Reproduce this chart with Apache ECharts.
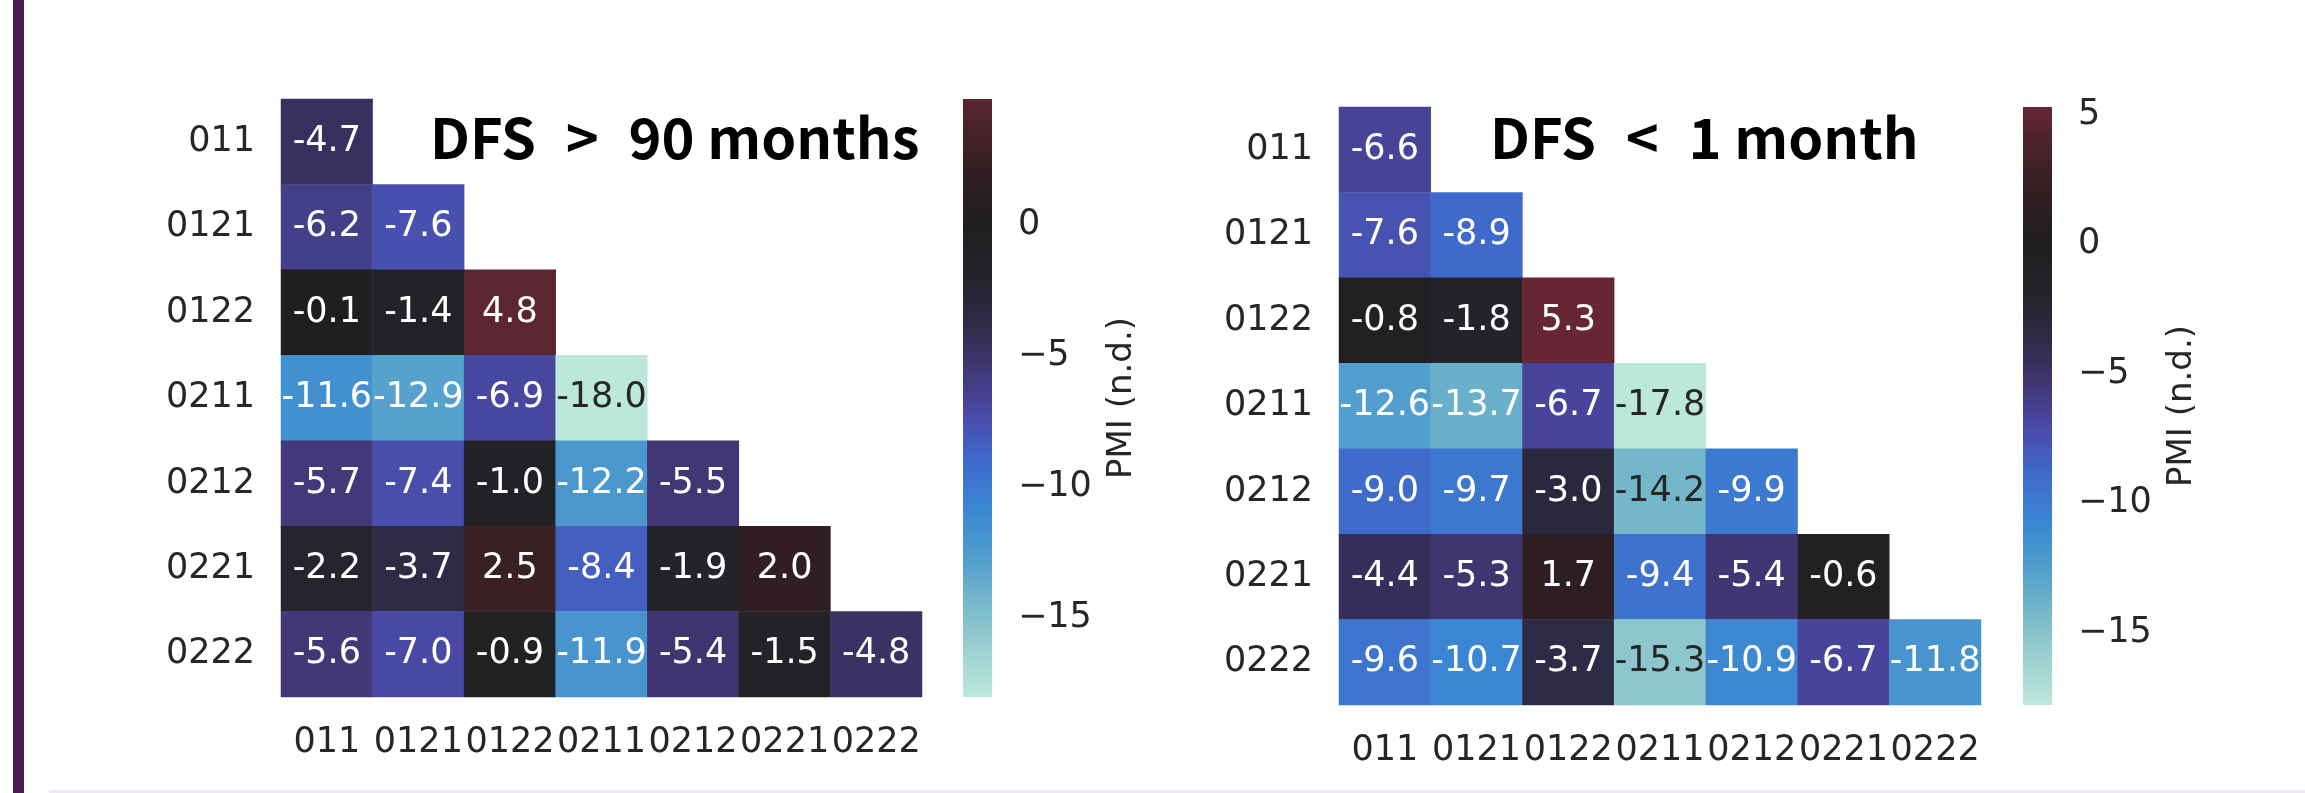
<!DOCTYPE html>
<html><head><meta charset="utf-8">
<script src="https://cdn.jsdelivr.net/npm/echarts@6/dist/echarts.min.js"></script>
<style>html,body{margin:0;padding:0;background:#fff}#c{width:2305px;height:793px}</style>
</head><body><div id="c"></div>
<script>
// ---------- data ----------
const categories = ['011', '0121', '0122', '0211', '0212', '0221', '0222'];
const leftTitle = ['DFS', '>', '90 months'];
const rightTitle = ['DFS', '<', '1 month'];
const leftRows = [
  [-4.7],
  [-6.2, -7.6],
  [-0.1, -1.4, 4.8],
  [-11.6, -12.9, -6.9, -18.0],
  [-5.7, -7.4, -1.0, -12.2, -5.5],
  [-2.2, -3.7, 2.5, -8.4, -1.9, 2.0],
  [-5.6, -7.0, -0.9, -11.9, -5.4, -1.5, -4.8]
];
const rightRows = [
  [-6.6],
  [-7.6, -8.9],
  [-0.8, -1.8, 5.3],
  [-12.6, -13.7, -6.7, -17.8],
  [-9.0, -9.7, -3.0, -14.2, -9.9],
  [-4.4, -5.3, 1.7, -9.4, -5.4, -0.6],
  [-9.6, -10.7, -3.7, -15.3, -10.9, -6.7, -11.8]
];
const leftColorbarTicks = [-15, -10, -5, 0];
const rightColorbarTicks = [-15, -10, -5, 0, 5];
const colorbarLabel = 'PMI (n.d.)';

// ---------- colormap (icefire-like, centred at 0) ----------
const cmapAnchors = [
  [0.00, '#bce7db'], [0.05, '#9dd1cf'], [0.10, '#76b8ca'], [0.15, '#4f9dcd'],
  [0.20, '#3a86d2'], [0.25, '#3f6acb'], [0.30, '#4a4aa8'], [0.35, '#3f3671'],
  [0.40, '#2d2a44'], [0.45, '#242329'], [0.50, '#1f1e1f'], [0.55, '#2f1e21'],
  [0.60, '#472229'], [0.65, '#672636'], [0.70, '#8a2a3f']
];
function hex2rgb(h) { return [1, 3, 5].map(i => parseInt(h.substr(i, 2), 16)); }
function cmapRGB(t) {
  t = Math.max(0, Math.min(0.7, t));
  for (let i = 0; i < cmapAnchors.length - 1; i++) {
    const [t0, c0] = cmapAnchors[i], [t1, c1] = cmapAnchors[i + 1];
    if (t >= t0 && t <= t1) {
      const f = (t - t0) / (t1 - t0), a = hex2rgb(c0), b = hex2rgb(c1);
      return a.map((v, k) => Math.round(v + (b[k] - v) * f));
    }
  }
  return hex2rgb(cmapAnchors[cmapAnchors.length - 1][1]);
}
function rgbStr(c) { return 'rgb(' + c.join(',') + ')'; }
function lum(c) {
  const l = c.map(v => { v /= 255; return v <= 0.03928 ? v / 12.92 : Math.pow((v + 0.055) / 1.055, 2.4); });
  return 0.2126 * l[0] + 0.7152 * l[1] + 0.0722 * l[2];
}

const FONT = 'DejaVu Sans';
const TFONT = 'Noto Sans CJK KR';
const TXT = '#262626';
const FS = 35;

function buildPanel(rows, ticks, title, L, idx) {
  const flat = rows.flat();
  const vmin = Math.min(...flat), vmax = Math.max(...flat);
  const vr = Math.max(Math.abs(vmin), Math.abs(vmax));
  const tOf = v => 0.5 + v / (2 * vr);
  const data = [];
  rows.forEach((r, yi) => r.forEach((v, xi) => {
    const c = cmapRGB(tOf(v));
    data.push({ value: [xi, yi, v], itemStyle: { color: rgbStr(c) },
      label: { color: lum(c) > 0.408 ? TXT : '#ffffff' } });
  }));
  const stops = [];
  const N = 80;
  for (let i = 0; i <= N; i++) {
    const o = i / N, v = vmax - o * (vmax - vmin);
    stops.push({ offset: o, color: rgbStr(cmapRGB(tOf(v))) });
  }
  const grad = new echarts.graphic.LinearGradient(0, 0, 0, 1, stops);
  const g0 = idx * 2, g1 = idx * 2 + 1;
  const tstyle = { fontFamily: TFONT, fontWeight: 'bold', fontSize: 56, lineHeight: 60, color: '#000' };
  return {
    grids: [
      { left: L.hx, top: L.hy, width: L.hw, height: L.hh },
      { left: L.cx, top: L.hy, width: L.cw, height: L.hh }
    ],
    xAxis: [
      { gridIndex: g0, type: 'category', data: categories, axisLine: { show: false },
        axisTick: { alignWithLabel: true, interval: 0, length: 13, lineStyle: { color: TXT, width: 2 } },
        axisLabel: { interval: 0, fontFamily: FONT, fontSize: FS, color: TXT, margin: 28 }, splitArea: { show: false } },
      { gridIndex: g1, type: 'value', min: 0, max: 1, show: false }
    ],
    yAxis: [
      { gridIndex: g0, type: 'category', data: categories, inverse: true, axisLine: { show: false },
        axisTick: { alignWithLabel: true, interval: 0, length: 12, lineStyle: { color: TXT, width: 2 } },
        axisLabel: { interval: 0, fontFamily: FONT, fontSize: FS, color: TXT, margin: 26 }, splitArea: { show: false } },
      { gridIndex: g1, type: 'value', min: vmin, max: vmax, position: 'right',
        axisLine: { show: false }, splitLine: { show: false },
        axisTick: { show: true, length: 9, customValues: ticks, lineStyle: { color: TXT, width: 2 } },
        axisLabel: { customValues: ticks, fontFamily: FONT, fontSize: FS, color: TXT, margin: 26,
          formatter: v => String(v).replace('-', '\u2212') },
        name: colorbarLabel, nameLocation: 'middle', nameRotate: 90, nameGap: 113,
        nameTextStyle: { fontFamily: FONT, fontSize: 34, color: TXT } }
    ],
    series: [
      { type: 'heatmap', xAxisIndex: g0, yAxisIndex: g0, data: data,
        label: { show: true, fontFamily: FONT, fontSize: FS, formatter: p => p.value[2].toFixed(1) },
        itemStyle: { borderWidth: 0 }, emphasis: { disabled: true } },
      { type: 'custom', xAxisIndex: g1, yAxisIndex: g1, clip: false, data: [[0, vmin, vmax]],
        encode: { x: 0, y: [1, 2] },
        renderItem: (params, api) => {
          const p0 = api.coord([0, api.value(2)]);
          const p1 = api.coord([1, api.value(1)]);
          return { type: 'rect', shape: { x: p0[0], y: p0[1], width: p1[0] - p0[0], height: p1[1] - p0[1] },
            style: { fill: grad } };
        } }
    ],
    title: { text: '{b|' + title[0] + '} {g|' + title[1] + '} {b|' + title[2] + '}',
      left: L.tx, top: L.ty, padding: 0,
      textStyle: Object.assign({}, tstyle, { rich: { b: tstyle, g: Object.assign({}, tstyle, { padding: [0, 17] }) } }) }
  };
}

const P1 = buildPanel(leftRows, leftColorbarTicks, leftTitle,
  { hx: 281, hy: 99, hw: 641, hh: 598, cx: 963, cw: 29, tx: 430, ty: 108 }, 0);
const P2 = buildPanel(rightRows, rightColorbarTicks, rightTitle,
  { hx: 1339, hy: 107, hw: 642, hh: 598, cx: 2023, cw: 29, tx: 1490, ty: 108 }, 1);

const chart = echarts.init(document.getElementById('c'), null, { renderer: 'canvas' });
chart.setOption({
  backgroundColor: '#ffffff',
  animation: false,
  title: [P1.title, P2.title],
  grid: [...P1.grids, ...P2.grids],
  xAxis: [...P1.xAxis, ...P2.xAxis],
  yAxis: [...P1.yAxis, ...P2.yAxis],
  series: [...P1.series, ...P2.series],
  graphic: [
    { type: 'rect', left: 13, top: 0, shape: { width: 11, height: 793 }, style: { fill: '#4b1b56' }, silent: true },
    { type: 'rect', left: 49, top: 790, shape: { width: 2256, height: 3 }, style: { fill: '#f3e6f6' }, silent: true }
  ]
});
</script></body></html>
